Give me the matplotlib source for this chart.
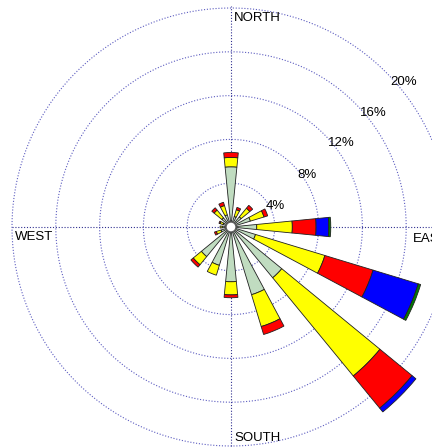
import numpy as np
import matplotlib.pyplot as plt
from matplotlib.patches import Wedge, Circle

# wind directions (compass degrees, clockwise from north)
directions = ['N', 'NNE', 'NE', 'ENE', 'E', 'ESE', 'SE', 'SSE',
              'S', 'SSW', 'SW', 'WSW', 'W', 'WNW', 'NW', 'NNW']
dir_deg = np.arange(16) * 22.5

# frequency (%) of each speed class per direction
class_1 = [5.50, 1.00, 1.20, 1.85, 2.35, 2.34, 6.00, 6.46,
           5.00, 3.66, 3.50, 0.95, 0.80, 0.75, 1.08, 1.16]
class_2 = [0.85, 0.65, 1.02, 1.30, 3.25, 6.62, 11.60, 3.04,
           1.20, 0.94, 0.96, 0.45, 0.20, 0.30, 0.92, 0.89]
class_3 = [0.45, 0.22, 0.34, 0.35, 2.17, 4.60, 3.80, 0.76,
           0.26, 0.00, 0.28, 0.18, 0.00, 0.10, 0.27, 0.31]
class_4 = [0, 0, 0, 0, 1.16, 4.31, 0.45, 0, 0, 0, 0, 0, 0, 0, 0, 0]
class_5 = [0, 0, 0, 0, 0.18, 0.23, 0, 0, 0, 0, 0, 0, 0, 0, 0, 0]
class_colors = ['#c0dcc0', '#ffff00', '#ff0000', '#0000ff', '#007f00']

rings = [4, 8, 12, 16, 20]
ring_labels = ['4%', '8%', '12%', '16%', '20%']
label_ang = [31, 38, 41, 41.5, 42.4]   # where each ring label sits (deg from east)

# pixel scale: ~10.95 px per percent, centre at (231, 227) px
W, H = 432, 447
s = 10.95
cx, cy = 231, 227

fig = plt.figure(figsize=(W / 100, H / 100), dpi=100)
ax = fig.add_axes([0, 0, 1, 1])
ax.set_xlim(-cx / s, (W - cx) / s)
ax.set_ylim(-(H - cy) / s, cy / s)
ax.axis('off')

# dotted range rings and axes
t = np.linspace(0, 2 * np.pi, 400)
for r in rings:
    ax.plot(r * np.cos(t), r * np.sin(t), color='#5c5cc0', lw=0.8,
            ls=(0, (1, 1.6)), zorder=1)
ax.plot([-20, 20], [0, 0], color='#303090', lw=0.8, ls=(0, (1, 1.6)), zorder=1)
ax.plot([0, 0], [-20, 20.2], color='#303090', lw=0.8, ls=(0, (1, 1.6)), zorder=1)

# stacked wedges
half = 5.625
bands = [class_1, class_2, class_3, class_4, class_5]
for i, d in enumerate(dir_deg):
    th = 90 - d
    r0 = 0.0
    for band, col in zip(bands, class_colors):
        v = band[i]
        if v <= 0:
            continue
        w = Wedge((0, 0), r0 + v, th - half, th + half, width=v,
                  facecolor=col, edgecolor='#202020', lw=0.6, zorder=3)
        ax.add_patch(w)
        r0 += v

ax.add_patch(Circle((0, 0), 0.45, facecolor='white', edgecolor='#606060',
                    lw=0.9, zorder=4))

fam = ['Liberation Sans', 'DejaVu Sans']
fs = 9.5
ax.text(0.3, 19.6, 'NORTH', ha='left', va='top', fontsize=fs, family=fam)
ax.text(0.3, -18.7, 'SOUTH', ha='left', va='top', fontsize=fs, family=fam)
ax.text(-19.7, -0.4, 'WEST', ha='left', va='top', fontsize=fs, family=fam)
ax.text(16.6, -0.55, 'EAST', ha='left', va='top', fontsize=fs, family=fam)

for r, lab, ang in zip(rings, ring_labels, label_ang):
    a = np.deg2rad(ang)
    ax.text((r - 0.3) * np.cos(a), (r - 0.3) * np.sin(a), lab, ha='left',
            va='center', fontsize=fs, family=fam, zorder=5)

fig.savefig('out.png', dpi=100)
